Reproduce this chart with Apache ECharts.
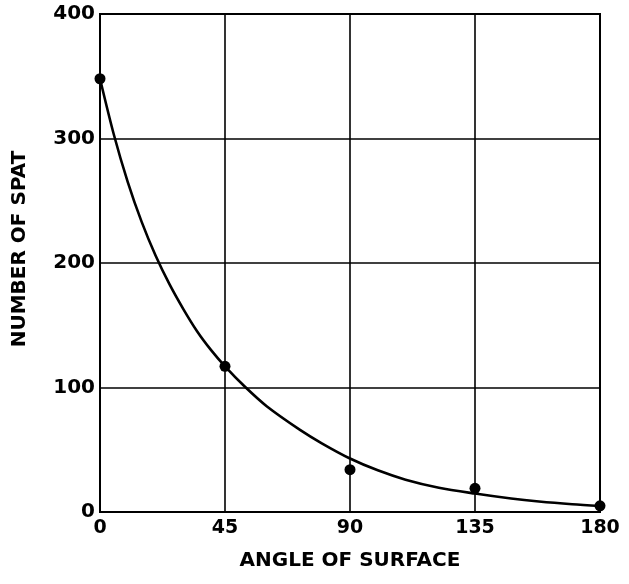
<!DOCTYPE html>
<html>
<head>
<meta charset="utf-8">
<script src="https://cdn.jsdelivr.net/npm/echarts@6/dist/echarts.min.js"></script>
<style>
html,body{margin:0;padding:0;background:#fff;}
#chart{width:629px;height:584px;}
</style>
</head>
<body>
<div id="chart"></div>
<script>
// Axis ticks
const xTicks = [0, 45, 90, 135, 180];
const yTicks = [0, 100, 200, 300, 400];
// Observed points (angle of surface, number of spat)
const obsAngle = [0, 45, 90, 135, 180];
const obsSpat = [348, 117, 34, 19, 5];
// Fitted curve
const curveAngle = [0, 5, 10, 15, 20, 25, 30, 35, 40, 45, 52, 60, 72, 80, 90, 100, 110, 122, 135, 148, 158, 170, 180];
const curveSpat = [348, 303, 265, 233, 206, 183, 163, 145, 130, 117, 101, 85, 66, 55, 43, 33.5, 26, 19.5, 14.8, 10.8, 8.4, 6.2, 4.8];

const xLabel = 'ANGLE OF SURFACE';
const yLabel = 'NUMBER OF SPAT';

const FONT = 'DejaVu Sans';
const chart = echarts.init(document.getElementById('chart'), null, {renderer: 'canvas'});
chart.setOption({
  backgroundColor: '#fff',
  animation: false,
  grid: {left: 100, right: 29, top: 14, bottom: 72, show: true, borderColor: '#000', borderWidth: 2, backgroundColor: 'transparent'},
  xAxis: {
    type: 'value',
    min: xTicks[0], max: xTicks[xTicks.length - 1], interval: xTicks[1] - xTicks[0],
    name: xLabel, nameLocation: 'middle', nameGap: 39,
    nameTextStyle: {fontFamily: FONT, fontWeight: 'bold', fontSize: 20, color: '#000'},
    axisLine: {show: true, lineStyle: {color: '#000', width: 2}},
    axisTick: {show: false},
    axisLabel: {fontFamily: FONT, fontWeight: 'bold', fontSize: 19, color: '#000', margin: 7},
    splitLine: {show: true, lineStyle: {color: '#000', width: 1.6}}
  },
  yAxis: {
    type: 'value',
    min: yTicks[0], max: yTicks[yTicks.length - 1], interval: yTicks[1] - yTicks[0],
    name: yLabel, nameLocation: 'middle', nameGap: 70, nameRotate: 90,
    nameTextStyle: {fontFamily: FONT, fontWeight: 'bold', fontSize: 20, color: '#000', padding: [0, 0, 0, 28]},
    axisLine: {show: true, lineStyle: {color: '#000', width: 2}},
    axisTick: {show: false},
    axisLabel: {fontFamily: FONT, fontWeight: 'bold', fontSize: 20, color: '#000', margin: 5},
    splitLine: {show: true, lineStyle: {color: '#000', width: 1.6}}
  },
  series: [
    {
      type: 'line',
      data: curveAngle.map((a, i) => [a, curveSpat[i]]),
      smooth: 0.3,
      showSymbol: false,
      lineStyle: {color: '#000', width: 2.6},
      z: 3
    },
    {
      type: 'scatter',
      data: obsAngle.map((a, i) => [a, obsSpat[i]]),
      symbol: 'circle',
      symbolSize: 11,
      itemStyle: {color: '#000', opacity: 1},
      z: 4
    }
  ]
});
</script>
</body>
</html>
